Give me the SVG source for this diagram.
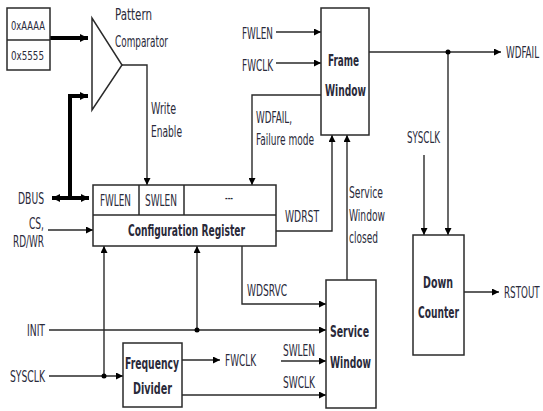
<svg xmlns="http://www.w3.org/2000/svg" width="543" height="411" viewBox="0 0 543 411">
<defs>
<style>
.box{fill:#fff;stroke:#2a2a2a;stroke-width:1.5}
.ln{fill:none;stroke:#2a2a2a;stroke-width:1.4}
.thick{fill:none;stroke:#000;stroke-width:4}
.t{font-family:"DejaVu Sans Condensed","DejaVu Sans",sans-serif;font-size:15px;fill:#2a2a3a}
.s{font-size:12px}
.b{font-weight:bold}
.e{text-anchor:end}
.dot{fill:#000}
</style>
<marker id="ah" viewBox="0 0 10 10" refX="10" refY="5" markerWidth="7" markerHeight="7" markerUnits="userSpaceOnUse" orient="auto"><path d="M0,0 L10,5 L0,10 z" fill="#000"/></marker>
<marker id="ahT" viewBox="0 0 10 10" refX="10" refY="5" markerWidth="8" markerHeight="9" markerUnits="userSpaceOnUse" orient="auto-start-reverse"><path d="M0,0 L10,5 L0,10 z" fill="#000"/></marker>
</defs>
<rect width="543" height="411" fill="#fff"/>

<g id="connectors">
<path class="thick" d="M50,38 H88" marker-end="url(#ahT)"/>
<path class="thick" d="M52,198 H89" marker-start="url(#ahT)" marker-end="url(#ahT)"/>
<path class="thick" d="M70,198 V96 H88" marker-end="url(#ahT)"/>
<path class="ln" d="M122,65 H147 V185" marker-end="url(#ah)"/>
<path class="ln" d="M48,230 H93" marker-end="url(#ah)"/>
<path class="ln" d="M321,95 H252 V185" marker-end="url(#ah)"/>
<path class="ln" d="M276,231 H332 V135" marker-end="url(#ah)"/>
<path class="ln" d="M347,280 V135" marker-end="url(#ah)"/>
<path class="ln" d="M242,246 V304 H326" marker-end="url(#ah)"/>
<path class="ln" d="M49,330 H326" marker-end="url(#ah)"/>
<path class="ln" d="M197,330 V246" marker-end="url(#ah)"/>
<path class="ln" d="M49,376 H123" marker-end="url(#ah)"/>
<path class="ln" d="M104,376 V246" marker-end="url(#ah)"/>
<path class="ln" d="M182,360 H220" marker-end="url(#ah)"/>
<path class="ln" d="M281,361 H326" marker-end="url(#ah)"/>
<path class="ln" d="M182,395 H326" marker-end="url(#ah)"/>
<path class="ln" d="M276,32 H321" marker-end="url(#ah)"/>
<path class="ln" d="M276,63 H321" marker-end="url(#ah)"/>
<path class="ln" d="M369,52 H501" marker-end="url(#ah)"/>
<path class="ln" d="M448,52 V235" marker-end="url(#ah)"/>
<path class="ln" d="M424,155 V235" marker-end="url(#ah)"/>
<path class="ln" d="M464,292 H499" marker-end="url(#ah)"/>
<circle class="dot" cx="448" cy="52" r="2.5"/>
<circle class="dot" cx="197" cy="330" r="2.5"/>
<circle class="dot" cx="104" cy="376" r="2.5"/>
</g>

<g id="patterns">
<rect class="box" x="7" y="8" width="43" height="62"/>
<line class="box" x1="7" y1="40" x2="50" y2="40"/>
<text class="t s" x="11" y="29.5" textLength="34" lengthAdjust="spacingAndGlyphs">0xAAAA</text>
<text class="t s" x="11" y="59.5" textLength="33" lengthAdjust="spacingAndGlyphs">0x5555</text>
</g>

<g id="comparator">
<path class="box" d="M92,18 L92,110 L122,65 Z"/>
<text class="t" x="115" y="20" textLength="37" lengthAdjust="spacingAndGlyphs">Pattern</text>
<text class="t" x="115" y="47" textLength="53" lengthAdjust="spacingAndGlyphs">Comparator</text>
<text class="t" x="151" y="114" textLength="25" lengthAdjust="spacingAndGlyphs">Write</text>
<text class="t" x="151" y="137" textLength="31" lengthAdjust="spacingAndGlyphs">Enable</text>
</g>

<g id="frame-window">
<rect class="box" x="321" y="8" width="48" height="127"/>
<text class="t b" x="328" y="65.5" textLength="31" lengthAdjust="spacingAndGlyphs">Frame</text>
<text class="t b" x="325" y="95.5" textLength="41" lengthAdjust="spacingAndGlyphs">Window</text>
</g>

<g id="config-register">
<rect class="box" x="93" y="185" width="183" height="61"/>
<line class="box" x1="93" y1="215" x2="276" y2="215"/>
<line class="box" x1="139" y1="185" x2="139" y2="215"/>
<line class="box" x1="184" y1="185" x2="184" y2="215"/>
<text class="t" x="100" y="205.5" textLength="31" lengthAdjust="spacingAndGlyphs">FWLEN</text>
<text class="t" x="145" y="205.5" textLength="32" lengthAdjust="spacingAndGlyphs">SWLEN</text>
<text class="t" x="225" y="203" textLength="8" lengthAdjust="spacingAndGlyphs">---</text>
<text class="t b" x="128" y="235.5" textLength="117" lengthAdjust="spacingAndGlyphs">Configuration Register</text>
</g>

<g id="service-window">
<rect class="box" x="326" y="280" width="50" height="128"/>
<text class="t b" x="330" y="336.5" textLength="39" lengthAdjust="spacingAndGlyphs">Service</text>
<text class="t b" x="330" y="367.5" textLength="41" lengthAdjust="spacingAndGlyphs">Window</text>
</g>

<g id="down-counter">
<rect class="box" x="413" y="235" width="51" height="120"/>
<text class="t b" x="423" y="287.5" textLength="30" lengthAdjust="spacingAndGlyphs">Down</text>
<text class="t b" x="418" y="317.5" textLength="41" lengthAdjust="spacingAndGlyphs">Counter</text>
</g>

<g id="frequency-divider">
<rect class="box" x="123" y="343" width="59" height="64"/>
<text class="t b" x="125" y="368.5" textLength="54" lengthAdjust="spacingAndGlyphs">Frequency</text>
<text class="t b" x="133" y="393.5" textLength="39" lengthAdjust="spacingAndGlyphs">Divider</text>
</g>

<g id="labels">
<text class="t" x="242" y="38.5" textLength="31" lengthAdjust="spacingAndGlyphs">FWLEN</text>
<text class="t" x="242" y="70.5" textLength="31" lengthAdjust="spacingAndGlyphs">FWCLK</text>
<text class="t" transform="translate(506,57.5) scale(0.65,1)">WDFAIL</text>
<text class="t" x="256" y="122.5" textLength="36" lengthAdjust="spacingAndGlyphs">WDFAIL,</text>
<text class="t" x="256" y="144.5" textLength="58" lengthAdjust="spacingAndGlyphs">Failure mode</text>
<text class="t" x="407" y="142.5" textLength="33" lengthAdjust="spacingAndGlyphs">SYSCLK</text>
<text class="t" x="18" y="203.5" textLength="26" lengthAdjust="spacingAndGlyphs">DBUS</text>
<text class="t" x="29" y="228.5" textLength="15" lengthAdjust="spacingAndGlyphs">CS,</text>
<text class="t" x="13" y="246.5" textLength="31" lengthAdjust="spacingAndGlyphs">RD/WR</text>
<text class="t" x="285" y="221.5" textLength="34" lengthAdjust="spacingAndGlyphs">WDRST</text>
<text class="t" x="349" y="197.5" textLength="34" lengthAdjust="spacingAndGlyphs">Service</text>
<text class="t" x="349" y="220.5" textLength="36" lengthAdjust="spacingAndGlyphs">Window</text>
<text class="t" x="349" y="242.5" textLength="29" lengthAdjust="spacingAndGlyphs">closed</text>
<text class="t" x="247" y="295.5" textLength="40" lengthAdjust="spacingAndGlyphs">WDSRVC</text>
<text class="t" x="27" y="335.5" textLength="18" lengthAdjust="spacingAndGlyphs">INIT</text>
<text class="t" x="10" y="381.5" textLength="35" lengthAdjust="spacingAndGlyphs">SYSCLK</text>
<text class="t" x="225" y="365.5" textLength="31" lengthAdjust="spacingAndGlyphs">FWCLK</text>
<text class="t" x="283" y="355.5" textLength="32" lengthAdjust="spacingAndGlyphs">SWLEN</text>
<text class="t" x="283" y="387.5" textLength="32" lengthAdjust="spacingAndGlyphs">SWCLK</text>
<text class="t" transform="translate(504,297.5) scale(0.65,1)">RSTOUT</text>
</g>
</svg>
